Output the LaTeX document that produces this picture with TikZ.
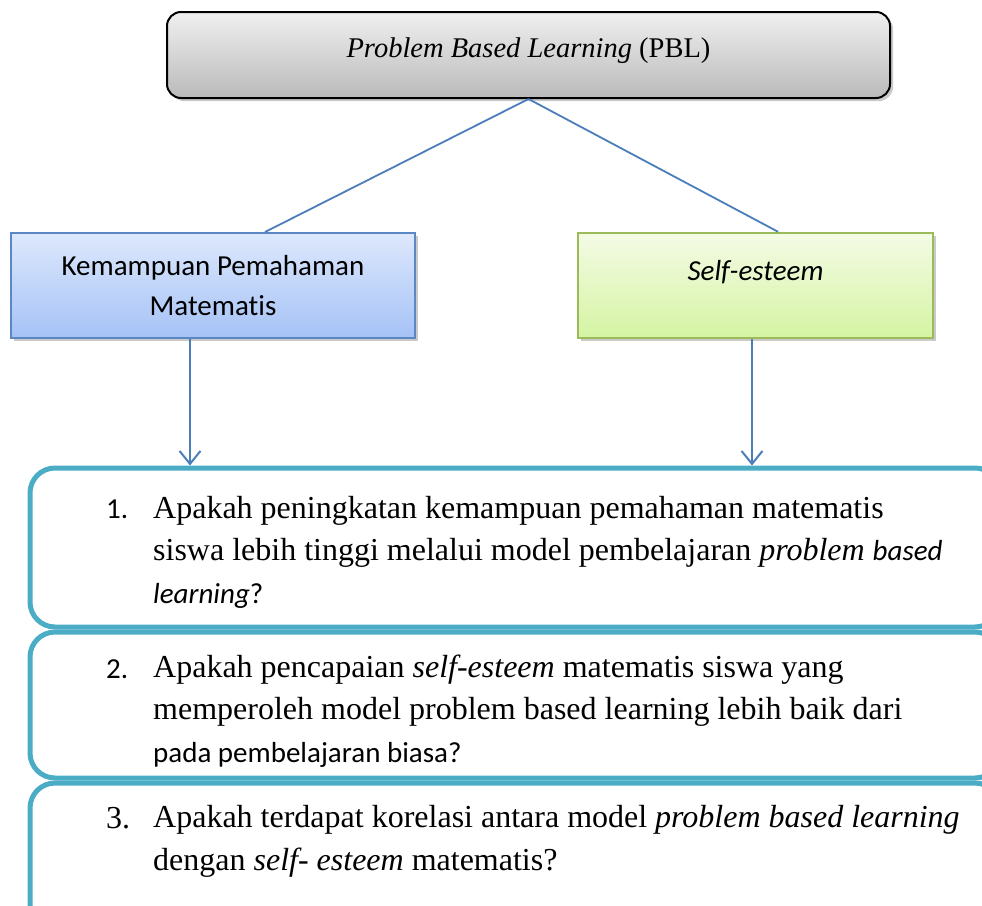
\documentclass[tikz,border=0pt]{standalone}
\usepackage{fontspec}
\setmainfont{Liberation Serif}
\newfontfamily\calibri[Ligatures=NoCommon]{Carlito}
\usetikzlibrary{arrows.meta,shadows,positioning,calc}
\definecolor{linkblue}{HTML}{4A7EBB}
\definecolor{qteal}{HTML}{4BACC6}
\definecolor{kpmedge}{HTML}{5B87C5}
\definecolor{selfedge}{HTML}{9BBB59}
\tikzset{
    softshadow/.style={drop shadow={shadow xshift=3pt, shadow yshift=-3pt, opacity=0.35, fill=black!60}},
    pblbox/.style={draw=black, line width=2pt, rounded corners=14pt, top color=black!6, bottom color=black!27,
        minimum width=723pt, minimum height=86pt, text height=22pt, text depth=18pt,
        font=\fontsize{28.5}{34}\selectfont, softshadow},
    kpmbox/.style={draw=kpmedge, line width=2pt, top color={rgb,255:red,221;green,232;blue,252},
        bottom color={rgb,255:red,165;green,194;blue,246}, minimum width=404pt, minimum height=105pt,
        align=center, font=\calibri\fontsize{29}{40}\selectfont, softshadow},
    selfbox/.style={draw=selfedge, line width=2.5pt, top color={rgb,255:red,244;green,251;blue,229},
        bottom color={rgb,255:red,213;green,244;blue,163}, minimum width=355pt, minimum height=105pt,
        text height=20pt, text depth=31pt, font=\calibri\fontsize{29}{40}\selectfont, softshadow},
    qbox/.style={draw=qteal, line width=5pt, rounded corners=25pt, minimum width=970pt},
    qtext/.style={anchor=base west, inner sep=0pt, align=left, font=\fontsize{32}{42.5}\selectfont},
    qnum/.style={anchor=base west, inner sep=0pt, font=\calibri\fontsize{29}{40}\selectfont},
    link/.style={draw=linkblue, line width=1.8pt},
    down/.style={link, line width=2pt, -{Straight Barb[length=13pt, width=21pt]}}
}

\begin{document}
\begin{tikzpicture}[x=1pt, y=-1pt]
\useasboundingbox (0,0) rectangle (982,905);
% top and the two branches
\node[pblbox] (pbl) at (528.5,55) {\textit{Problem Based Learning} (PBL)};
\node[kpmbox] (kpm) at (213,285.5) {Kemampuan Pemahaman\\Matematis};
\node[selfbox] (self) at (755.5,285.5) {\textit{Self-esteem}};
% question boxes
\node[qbox, minimum height=159pt] (q1) at (515,547.5) {};
\node[qbox, minimum height=146pt] (q2) at (515,705) {};
\node[qbox, minimum height=152pt] (q3) at (515,859) {};
\draw[link] (pbl.south) -- ([xshift=52pt]kpm.north);
\draw[link] (pbl.south) -- ([xshift=22.5pt]self.north);
\draw[down] ([xshift=-23pt]kpm.south) -- ([xshift=-23pt]kpm.south |- q1.north);
\draw[down] ([xshift=-3.5pt]self.south) -- ([xshift=-3.5pt]self.south |- q1.north);
% texts of the questions (base = last line)
\node[qnum] (q1num) at (106,518) {1.};
\node[qtext] (q1txt) at (153,603) {Apakah peningkatan kemampuan pemahaman matematis\\
    siswa lebih tinggi melalui model pembelajaran \textit{problem} {\calibri\itshape\fontsize{29}{40}\selectfont based}\\
    {\calibri\fontsize{29}{40}\selectfont\textit{learning}?}};
\node[qnum] (q2num) at (106,678) {2.};
\node[qtext] (q2txt) at (153,762) {Apakah pencapaian \textit{self-esteem} matematis siswa yang\\
    memperoleh model problem based learning lebih baik dari\\
    {\calibri\fontsize{29}{40}\selectfont pada pembelajaran biasa?}};
\node[qtext] (q3num) at (106,828) {3.};
\node[qtext] (q3txt) at (153,870) {Apakah terdapat korelasi antara model \textit{problem based learning}\\
    dengan \textit{self- esteem} matematis?};
\end{tikzpicture}
\end{document}
